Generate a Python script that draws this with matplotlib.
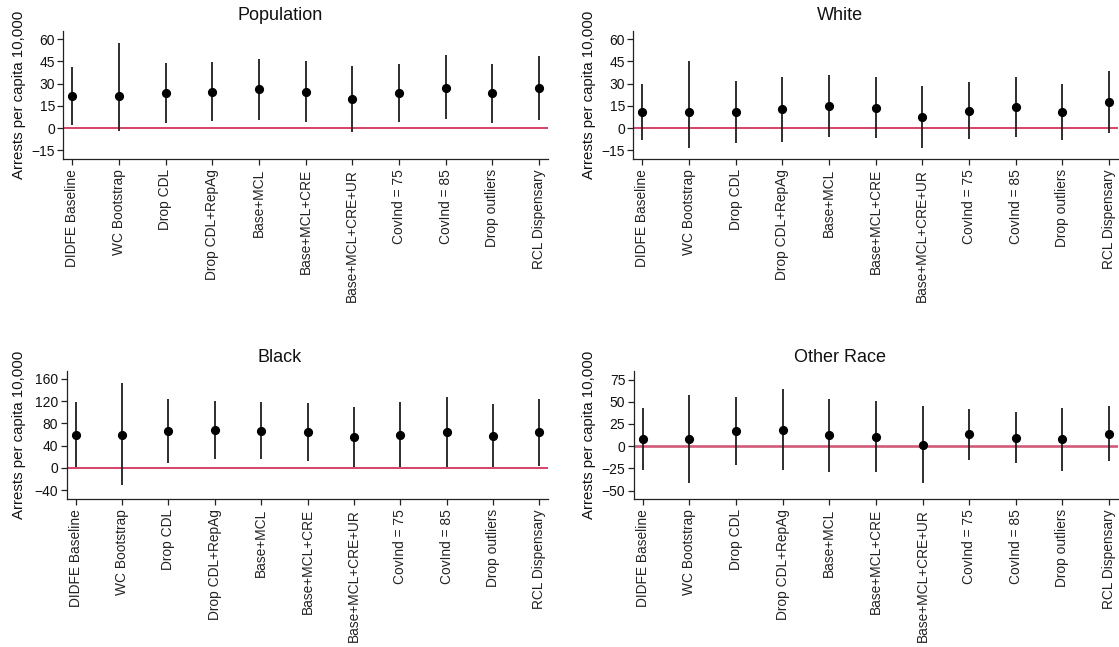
import numpy as np
import matplotlib
matplotlib.use("Agg")
import matplotlib.pyplot as plt

plt.rcParams['font.family'] = ['Liberation Sans', 'DejaVu Sans']

# Specifications along the x axis
SPECS = [
    "DIDFE Baseline", "WC Bootstrap", "Drop CDL", "Drop CDL+RepAg",
    "Base+MCL", "Base+MCL+CRE", "Base+MCL+CRE+UR", "CovInd = 75",
    "CovInd = 85", "Drop outliers", "RCL Dispensary",
]

# Point estimates and 95% CI bounds
pop_est = [21.8, 21.8, 23.6, 24.5, 26.1, 24.7, 19.8, 23.6, 27.4, 23.4, 27.0]
pop_lo  = [2.3, -1.8, 3.4, 4.5, 5.6, 4.3, -2.5, 3.8, 6.3, 3.6, 5.6]
pop_hi  = [41.2, 57.8, 44.0, 44.7, 46.7, 45.4, 42.2, 43.1, 49.2, 43.1, 49.0]

wht_est = [10.6, 10.6, 10.6, 12.6, 15.1, 13.7, 7.4, 11.7, 14.3, 10.8, 17.7]
wht_lo  = [-8.3, -13.3, -10.1, -9.7, -6.1, -7.0, -13.7, -7.4, -5.7, -8.1, -3.4]
wht_hi  = [29.9, 45.2, 31.5, 34.6, 36.2, 34.6, 28.5, 31.0, 34.4, 29.9, 38.6]

blk_est = [59.8, 59.5, 66.2, 68.0, 66.8, 65.0, 55.9, 59.5, 65.0, 57.7, 63.8]
blk_lo  = [2.2, -30.5, 8.4, 16.2, 16.2, 13.2, 1.8, 1.8, 2.4, 1.2, 4.2]
blk_hi  = [118.0, 153.6, 123.9, 120.9, 118.5, 116.7, 109.5, 118.5, 127.5, 114.3, 123.3]

oth_est = [8.4, 8.2, 16.9, 18.4, 12.0, 10.5, 1.5, 13.5, 9.7, 7.5, 14.2]
oth_lo  = [-26.4, -41.4, -21.4, -27.0, -28.9, -29.2, -42.0, -15.4, -18.8, -28.0, -16.9]
oth_hi  = [43.3, 57.3, 55.1, 64.1, 52.9, 50.6, 45.0, 42.4, 38.2, 43.1, 45.7]

PANELS = [
    # title, est, lo, hi, yticks, ylim, axes box in pixels (left, top, right, bottom), zero-line style
    ("Population", pop_est, pop_lo, pop_hi, [-15, 0, 15, 30, 45, 60], (-21.1, 65.6),
     (63.3, 31.0, 547.7, 159.3), ('#cc1040', 1.1)),
    ("White", wht_est, wht_lo, wht_hi, [-15, 0, 15, 30, 45, 60], (-21.1, 65.6),
     (633.3, 31.0, 1118.0, 159.3), ('#cc1040', 1.1)),
    ("Black", blk_est, blk_lo, blk_hi, [-40, 0, 40, 80, 120, 160], (-56.3, 174.9),
     (66.7, 370.7, 548.3, 499.3), ('#cc1040', 1.1)),
    ("Other Race", oth_est, oth_lo, oth_hi, [-50, -25, 0, 25, 50, 75], (-59.9, 85.0),
     (633.7, 370.7, 1118.0, 499.3), ('#d05a78', 1.9)),
]

W, H = 1119, 647
fig = plt.figure(figsize=(W / 100, H / 100), dpi=100)

x = np.arange(len(SPECS))

for i, (title, est, lo, hi, yt, ylim, box, zl) in enumerate(PANELS):
    l, t, r, b = box
    ax = fig.add_axes([l / W, 1 - b / H, (r - l) / W, (b - t) / H])

    ax.axhline(0, color=zl[0], linewidth=zl[1], zorder=1)
    ax.vlines(x, lo, hi, color='#1e1e1e', linewidth=1.3, zorder=2)
    ax.plot(x, est, 'o', color='black', markersize=5.6, zorder=3)

    ax.set_xlim(-0.19, 10.19)
    ax.set_ylim(*ylim)
    ax.set_yticks(yt)
    ax.set_xticks(x)
    ax.set_xticklabels(SPECS, rotation=90, fontsize=9.9, color='#111111')
    ax.tick_params(axis='y', labelsize=10, length=4, width=0.9, pad=2, colors='#222222',
                   labelcolor='#111111')
    ax.tick_params(axis='x', length=4, width=0.9, pad=3, colors='#222222')

    for s in ['top', 'right']:
        ax.spines[s].set_visible(False)
    for s in ['left', 'bottom']:
        ax.spines[s].set_linewidth(0.9)
        ax.spines[s].set_color('#222222')

    col_center = 280 if i % 2 == 0 else 840
    title_y = 15 if i < 2 else 357
    fig.text(col_center / W, 1 - title_y / H, title, ha='center', va='center',
             fontsize=13, color='#111111')

    ylab_x = 19 if i % 2 == 0 else 589
    fig.text(ylab_x / W, 1 - ((t + b) / 2) / H, "Arrests per capita 10,000",
             rotation=90, ha='center', va='center', fontsize=10.8, color='#111111')

fig.savefig("out.png", dpi=100)
